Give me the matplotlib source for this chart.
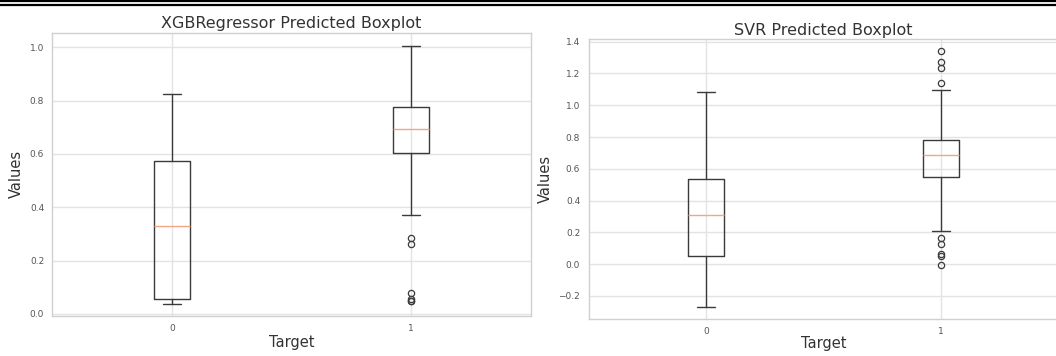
import matplotlib
matplotlib.use("Agg")
import matplotlib.pyplot as plt
import seaborn as sns
from matplotlib.lines import Line2D

# values
targets = ["0", "1"]

xgb_whislo = [0.036, 0.372]
xgb_q1 = [0.055, 0.602]
xgb_med = [0.330, 0.692]
xgb_q3 = [0.574, 0.775]
xgb_whishi = [0.825, 1.006]
xgb_fliers = [[], [0.286, 0.262, 0.078, 0.056, 0.050, 0.050]]

svr_whislo = [-0.269, 0.207]
svr_q1 = [0.054, 0.550]
svr_med = [0.308, 0.686]
svr_q3 = [0.538, 0.780]
svr_whishi = [1.082, 1.094]
svr_fliers = [[], [1.340, 1.270, 1.236, 1.138, 0.165, 0.126, 0.063, 0.052, -0.006]]


def make_stats(whislo, q1, med, q3, whishi, fliers):
    stats = []
    for i in range(len(med)):
        stats.append({"whislo": whislo[i], "q1": q1[i], "med": med[i],
                      "q3": q3[i], "whishi": whishi[i], "fliers": fliers[i]})
    return stats


def draw_box(ax, stats, title):
    line = dict(color="#3a3a3a", linewidth=1.0)
    ax.bxp(stats, positions=[1, 2], widths=0.15,
           boxprops=line, whiskerprops=line, capprops=line,
           medianprops=dict(color="#f4a582", linewidth=1.0),
           flierprops=dict(marker="o", markerfacecolor="none",
                           markeredgecolor="#3a3a3a", markersize=4.5,
                           markeredgewidth=0.9))
    ax.set_xticks([1, 2])
    ax.set_xticklabels(targets)
    ax.set_xlim(0.5, 2.5)
    ax.set_title(title, fontsize=11.5, color="#333333", pad=3)
    ax.set_xlabel("Target", fontsize=10.5, color="#333333", labelpad=1)
    ax.set_ylabel("Values", fontsize=10.5, color="#333333", labelpad=4)
    ax.tick_params(labelsize=6.5, colors="#555555", length=0, pad=6)
    ax.grid(True, color="#e3e3e3", linewidth=1.0)
    for s in ax.spines.values():
        s.set_color("#d0d0d0")
        s.set_linewidth(1.0)


sns.set_style("whitegrid")
plt.rcParams["font.family"] = ["DejaVu Sans"]

fig = plt.figure(figsize=(10.56, 3.56), dpi=100)
ax1 = fig.add_axes([0.0497, 0.1124, 0.4527, 0.796])
ax2 = fig.add_axes([0.5573, 0.1039, 0.445, 0.7857])

draw_box(ax1, make_stats(xgb_whislo, xgb_q1, xgb_med, xgb_q3, xgb_whishi, xgb_fliers),
         "XGBRegressor Predicted Boxplot")
draw_box(ax2, make_stats(svr_whislo, svr_q1, svr_med, svr_q3, svr_whishi, svr_fliers),
         "SVR Predicted Boxplot")
ax1.set_yticks([0.0, 0.2, 0.4, 0.6, 0.8, 1.0])
ax2.set_yticks([-0.2, 0.0, 0.2, 0.4, 0.6, 0.8, 1.0, 1.2, 1.4])
ax1.set_ylim(-0.0075, 1.055)
ax2.set_ylim(-0.345, 1.415)
ax2.xaxis.labelpad = 0

# double rule at the top of the page
fig.add_artist(Line2D([0, 1], [1 - 1.2 / 356, 1 - 1.2 / 356], color="black", linewidth=1.6))
fig.add_artist(Line2D([0, 1], [1 - 4.6 / 356, 1 - 4.6 / 356], color="black", linewidth=1.6))

fig.savefig("out.png", dpi=100)
